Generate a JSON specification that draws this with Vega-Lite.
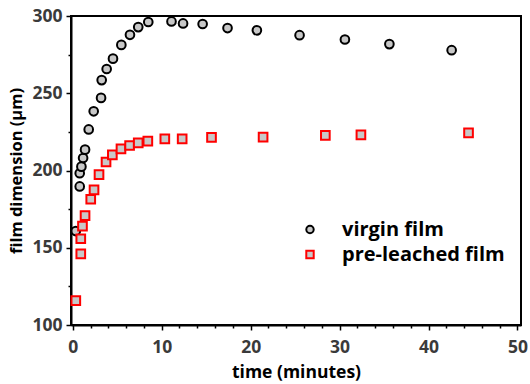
{
  "$schema": "https://vega.github.io/schema/vega-lite/v6.json",
  "autosize": "none",
  "width": 450,
  "height": 309,
  "padding": {"left": 71, "top": 16, "right": 9, "bottom": 59},
  "background": "white",
  "config": {
    "view": {"stroke": "black", "strokeWidth": 2},
    "font": "Open Sans",
    "axis": {
      "grid": false,
      "domainColor": "black",
      "domainWidth": 2,
      "tickColor": "black",
      "tickWidth": 1.5,
      "labelFont": "Open Sans",
      "labelFontWeight": "bold",
      "labelFontSize": 17.5,
      "labelColor": "#3a3a3a",
      "titleFont": "Open Sans",
      "titleFontWeight": "bold",
      "titleColor": "black"
    }
  },
  "data": {
    "values": [
      {"t": 0.34, "d": 160.8, "s": "virgin film"},
      {"t": 0.78, "d": 189.7, "s": "virgin film"},
      {"t": 0.78, "d": 198.2, "s": "virgin film"},
      {"t": 0.97, "d": 202.5, "s": "virgin film"},
      {"t": 1.16, "d": 208.1, "s": "virgin film"},
      {"t": 1.38, "d": 213.5, "s": "virgin film"},
      {"t": 1.79, "d": 226.6, "s": "virgin film"},
      {"t": 2.35, "d": 238.3, "s": "virgin film"},
      {"t": 3.18, "d": 247.0, "s": "virgin film"},
      {"t": 3.25, "d": 258.5, "s": "virgin film"},
      {"t": 3.81, "d": 265.7, "s": "virgin film"},
      {"t": 4.52, "d": 272.4, "s": "virgin film"},
      {"t": 5.46, "d": 281.3, "s": "virgin film"},
      {"t": 6.43, "d": 287.8, "s": "virgin film"},
      {"t": 7.36, "d": 292.8, "s": "virgin film"},
      {"t": 8.49, "d": 296.1, "s": "virgin film"},
      {"t": 11.1, "d": 296.5, "s": "virgin film"},
      {"t": 12.4, "d": 295.2, "s": "virgin film"},
      {"t": 14.6, "d": 294.8, "s": "virgin film"},
      {"t": 17.4, "d": 292.2, "s": "virgin film"},
      {"t": 20.7, "d": 290.7, "s": "virgin film"},
      {"t": 25.5, "d": 287.6, "s": "virgin film"},
      {"t": 30.6, "d": 284.8, "s": "virgin film"},
      {"t": 35.6, "d": 281.8, "s": "virgin film"},
      {"t": 42.6, "d": 277.9, "s": "virgin film"},
      {"t": 0.34, "d": 115.8, "s": "pre-leached film"},
      {"t": 0.9, "d": 146.0, "s": "pre-leached film"},
      {"t": 0.9, "d": 155.8, "s": "pre-leached film"},
      {"t": 1.09, "d": 164.0, "s": "pre-leached film"},
      {"t": 1.38, "d": 170.8, "s": "pre-leached film"},
      {"t": 2.02, "d": 181.4, "s": "pre-leached film"},
      {"t": 2.39, "d": 187.5, "s": "pre-leached film"},
      {"t": 2.95, "d": 197.3, "s": "pre-leached film"},
      {"t": 3.74, "d": 205.5, "s": "pre-leached film"},
      {"t": 4.45, "d": 210.1, "s": "pre-leached film"},
      {"t": 5.42, "d": 214.0, "s": "pre-leached film"},
      {"t": 6.39, "d": 216.2, "s": "pre-leached film"},
      {"t": 7.36, "d": 217.9, "s": "pre-leached film"},
      {"t": 8.44, "d": 219.0, "s": "pre-leached film"},
      {"t": 10.35, "d": 220.5, "s": "pre-leached film"},
      {"t": 12.3, "d": 220.5, "s": "pre-leached film"},
      {"t": 15.6, "d": 221.4, "s": "pre-leached film"},
      {"t": 21.4, "d": 221.6, "s": "pre-leached film"},
      {"t": 28.4, "d": 222.7, "s": "pre-leached film"},
      {"t": 32.4, "d": 223.1, "s": "pre-leached film"},
      {"t": 44.5, "d": 224.4, "s": "pre-leached film"}
    ]
  },
  "layer": [
    {
      "mark": {"type": "point", "opacity": 0},
      "encoding": {
        "x": {"field": "t", "type": "quantitative", "scale": {"domain": [-0.2, 50.4], "nice": false, "zero": false},
          "axis": {"orient": "bottom", "values": [2,4,6,8,12,14,16,18,22,24,26,28,32,34,36,38,42,44,46,48], "labels": false, "tickSize": 3, "domain": false, "title": null}},
        "y": {"field": "d", "type": "quantitative", "scale": {"domain": [100, 300], "nice": false, "zero": false},
          "axis": {"orient": "left", "values": [125,175,225,275], "labels": false, "tickSize": 3, "domain": false, "title": null}}
      }
    },
    {
      "mark": {"type": "point", "filled": false, "fill": "#c8c8c8", "fillOpacity": 1, "strokeWidth": 2, "size": 75, "opacity": 1},
      "encoding": {
        "x": {"field": "t", "type": "quantitative", "scale": {"domain": [-0.2, 50.4], "nice": false, "zero": false},
          "axis": {"orient": "bottom", "values": [0,10,20,30,40,50], "tickSize": 5, "labelPadding": 8, "title": "time (minutes)", "titleFontSize": 17.5, "titlePadding": 8}},
        "y": {"field": "d", "type": "quantitative", "scale": {"domain": [100, 300], "nice": false, "zero": false},
          "axis": {"orient": "left", "values": [100,150,200,250,300], "tickSize": 5, "labelPadding": 4, "title": "film dimension (μm)", "titleFontSize": 16.5, "titlePadding": 7}},
        "shape": {"field": "s", "type": "nominal", "scale": {"domain": ["virgin film", "pre-leached film"], "range": ["circle", "square"]},
          "legend": {"title": null, "orient": "none", "legendX": 229, "legendY": 203.5, "labelFontSize": 20, "labelFontWeight": "bold", "labelColor": "black", "labelFont": "Open Sans", "labelLimit": 0, "labelOffset": 22, "rowPadding": 5, "symbolFillColor": "#c8c8c8", "symbolStrokeWidth": 2, "symbolSize": 55, "padding": 0}},
        "stroke": {"field": "s", "type": "nominal", "scale": {"domain": ["virgin film", "pre-leached film"], "range": ["black", "red"]}, "legend": null}
      }
    }
  ],
  "resolve": {"scale": {"x": "independent", "y": "independent"}}
}
